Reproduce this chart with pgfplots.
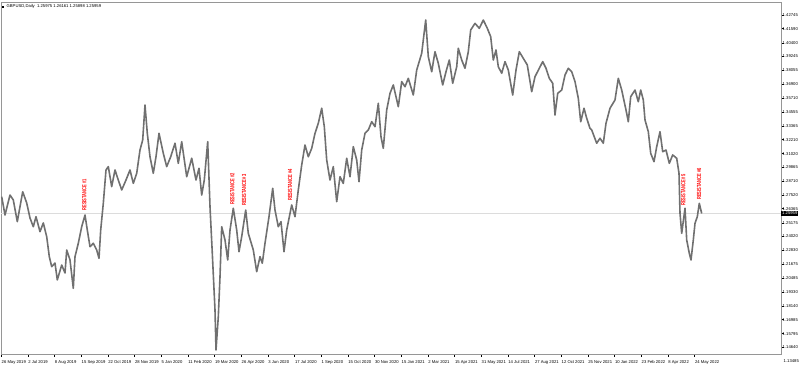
\documentclass[border=0pt]{standalone}
\usepackage{fontspec}
\setmainfont{Liberation Sans}
\usepackage{pgfplots}
\pgfplotsset{compat=1.18}
\definecolor{bar}{RGB}{112,112,112}
\definecolor{frm}{RGB}{150,150,150}
\definecolor{cur}{RGB}{220,220,220}
\definecolor{res}{RGB}{255,0,0}
\newcommand{\tk}{\fontsize{4.2}{5}\selectfont}
\newcommand{\rs}{\fontsize{4.4}{5}\selectfont\bfseries}
\newcommand{\rlab}[1]{\scalebox{0.92}[1.35]{RESISTANCE \##1}}
\begin{document}
\begin{tikzpicture}[x=1bp,y=1bp]
\useasboundingbox (-1,-16) rectangle (799,354);
\begin{axis}[
  scale only axis, width=780bp, height=352bp,
  xmin=1, xmax=781, ymin=1.14077, ymax=1.43845,
  clip=false,
  axis line style={draw=frm, line width=0.8bp},
  tick align=outside, major tick length=2.5bp,
  tick style={black, line width=0.4bp},
  xtick pos=left, ytick pos=right,
  yticklabel pos=right,
  xtick={1,27.7,54.3,81,107.7,134.3,161,187.7,214.3,241,267.7,294.3,321,347.7,374.3,401,427.7,454.3,481,507.7,534.3,561,587.7,614.3,641,667.7,694.3},
  xticklabels={26 May 2019,2 Jul 2019,8 Aug 2019,15 Sep 2019,22 Oct 2019,28 Nov 2019,5 Jan 2020,11 Feb 2020,19 Mar 2020,26 Apr 2020,3 Jun 2020,17 Jul 2020,1 Sep 2020,15 Oct 2020,30 Nov 2020,15 Jan 2021,2 Mar 2021,15 Apr 2021,31 May 2021,14 Jul 2021,27 Aug 2021,12 Oct 2021,25 Nov 2021,10 Jan 2022,23 Feb 2022,8 Apr 2022,24 May 2022},
  xticklabel style={font=\tk, anchor=north west, xshift=0.5bp, yshift=-4bp, inner sep=0pt},
  ytick={1.42745,1.41590,1.40400,1.39245,1.38055,1.36900,1.35710,1.34555,1.33365,1.32210,1.31020,1.29865,1.28710,1.27520,1.26365,1.25175,1.24020,1.22830,1.21675,1.20485,1.19330,1.18140,1.16985,1.15795,1.14640},
  yticklabels={1.42745,1.41590,1.40400,1.39245,1.38055,1.36900,1.35710,1.34555,1.33365,1.32210,1.31020,1.29865,1.28710,1.27520,1.26365,1.25175,1.24020,1.22830,1.21675,1.20485,1.19330,1.18140,1.16985,1.15795,1.14640},
  yticklabel style={font=\tk, anchor=west, xshift=-1bp, inner sep=0pt},
]
% current price line
\addplot[cur, line width=0.6bp] coordinates {(1,1.25959) (781,1.25959)};
% price series
\addplot[bar, line width=1.6bp, line join=round] coordinates {
(1.7,1.2738) (5,1.2583) (10,1.2752) (13.3,1.2710) (17.3,1.2527) (22.7,1.2780) (26.7,1.2685) (30,1.2558) (33.3,1.2484) (36,1.2569) (40,1.2442) (43.3,1.2516) (46.7,1.2400) (49.3,1.2231) (51.7,1.2146) (55,1.2177) (57.3,1.2034) (61.7,1.2160) (65,1.2093) (66.7,1.2287) (70,1.2203) (73.3,1.1963) (75,1.2231) (78.3,1.2344) (81.7,1.2484) (85,1.2583) (87.3,1.2456) (90,1.2315) (93.3,1.2344) (96.7,1.2287) (99,1.2217) (100.7,1.2456) (103.3,1.2682) (106,1.2964) (108.3,1.2992) (111.7,1.2823) (115,1.2964) (118.3,1.2879) (121.7,1.2795) (126,1.2879) (130,1.2964) (133.3,1.2851) (136.7,1.2936) (140,1.3133) (142.7,1.3218) (145,1.3513) (147.3,1.3274) (150,1.3076) (153.3,1.2936) (156,1.3076) (159,1.3274) (163.3,1.3105) (166.7,1.2992) (170.7,1.3076) (175,1.3190) (178.3,1.3020) (181.7,1.3203) (186.7,1.2907) (191.7,1.3063) (196,1.2879)
(199,1.2978) (201.7,1.2752) (204.3,1.2879) (207.7,1.3203) (210,1.2653) (212.3,1.2259) (215,1.1780) (216,1.1442) (218.3,1.1723) (220,1.2061) (221.7,1.2484) (225,1.2372) (227.7,1.2203) (230,1.2456) (233.3,1.2640) (236.7,1.2456) (239,1.2273) (241.7,1.2400) (245.7,1.2625) (248.3,1.2428) (253.3,1.2287) (256.7,1.2104) (260,1.2231) (262.3,1.2175) (265,1.2344) (269,1.2569) (272.7,1.2809) (275,1.2625) (278.3,1.2484) (281,1.2527) (284,1.2273) (286.7,1.2456) (291.7,1.2668) (295,1.2569) (298.3,1.2795) (301.7,1.3006) (305,1.3175) (308.3,1.3076) (311.7,1.3147) (315,1.3274) (318.3,1.3359) (321.7,1.3486) (324.3,1.3330) (326.7,1.3048) (330,1.2879) (333.3,1.2992) (336.7,1.2696) (340,1.2907) (343.3,1.2851) (346.7,1.3063) (350,1.2907) (353.3,1.3161) (356.7,1.3048) (359,1.2865) (361.7,1.3133) (365,1.3274) (368.3,1.3302) (371.7,1.3372) (375,1.3330) (378.3,1.3528) (381,1.3245) (383.3,1.3147) (386.7,1.3471) (390,1.3612)
(393.3,1.3683) (398.3,1.3499) (401.7,1.3711) (405,1.3668) (408.3,1.3739) (413.3,1.3598) (416.7,1.3809) (421.7,1.3951) (425.7,1.4232) (428.3,1.3922) (431.7,1.3795) (435,1.3964) (438.3,1.3866) (442.7,1.3683) (446,1.3795) (449.3,1.3894) (452.7,1.3697) (456.7,1.3837) (458.3,1.3993) (461.7,1.3894) (465,1.3824) (468.3,1.3964) (470.7,1.4148) (475,1.4204) (479.3,1.4162) (483.3,1.4232) (487.3,1.4162) (490.7,1.4091) (493.3,1.3894) (496,1.3979) (498.3,1.3837) (501.7,1.3782) (505,1.3880) (508.3,1.3809) (512.7,1.3598) (516,1.3809) (519.3,1.3964) (523.3,1.3908) (527.3,1.3852) (531.7,1.3626) (535,1.3753) (539.3,1.3824) (542.7,1.3880) (546,1.3824) (549.3,1.3739) (552.7,1.3697) (555,1.3429) (557.7,1.3612) (561.7,1.3640) (565,1.3767) (568.3,1.3824) (571.7,1.3795) (575,1.3711) (578.3,1.3570) (580.7,1.3372) (584,1.3486) (586.7,1.3401) (590,1.3316)
(591.7,1.3302) (596.7,1.3190) (600,1.3232) (603.3,1.3190) (606,1.3359) (610,1.3486) (615,1.3556) (618.3,1.3739) (621.7,1.3640) (626,1.3471) (628.3,1.3372) (630.7,1.3584) (635,1.3640) (638.3,1.3541) (640.7,1.3640) (643.3,1.3556) (645,1.3387) (648.3,1.3288) (650.7,1.3105) (654,1.3034) (656.7,1.3161) (660,1.3288) (662.7,1.3118) (666,1.3133) (669.3,1.3020) (672.7,1.3091) (676.7,1.3063) (679,1.2936) (680,1.2598) (681.7,1.2428) (685,1.2640) (686.7,1.2372) (689.3,1.2259) (691,1.2203) (693.3,1.2372) (695,1.2513) (697.3,1.2569) (699.3,1.2682) (701.7,1.2596)
};
% resistance labels
\node[rotate=90, anchor=west, inner sep=0pt, text=res, font=\rs] at (axis cs:84.3,1.2620) {\rlab{1}};
\node[rotate=90, anchor=west, inner sep=0pt, text=res, font=\rs] at (axis cs:232.3,1.2668) {\rlab{2}};
\node[rotate=90, anchor=west, inner sep=0pt, text=res, font=\rs] at (axis cs:244,1.2659) {\rlab{3}};
\node[rotate=90, anchor=west, inner sep=0pt, text=res, font=\rs] at (axis cs:290,1.2702) {\rlab{4}};
\node[rotate=90, anchor=west, inner sep=0pt, text=res, font=\rs] at (axis cs:683.3,1.2659) {\rlab{5}};
\node[rotate=90, anchor=west, inner sep=0pt, text=res, font=\rs] at (axis cs:699,1.2710) {\rlab{6}};
% current price box and last label
\node[anchor=west, fill=black, text=white, font=\tk, inner xsep=1bp, inner ysep=0.6bp] at (axis cs:781,1.25959) {1.25959};
\node[anchor=west, font=\tk, inner sep=0pt] at (axis cs:783.5,1.13485) {1.13485};
% title
\node[anchor=west, font=\tk, inner sep=0pt] at (axis cs:6.5,1.43449) {GBPUSD,Daily\ \ 1.25975 1.26161 1.25898 1.25959};
\node[anchor=center, fill=black, minimum size=2.2bp, inner sep=0pt] at (axis cs:3.2,1.43449) {};
\end{axis}
\end{tikzpicture}
\end{document}
